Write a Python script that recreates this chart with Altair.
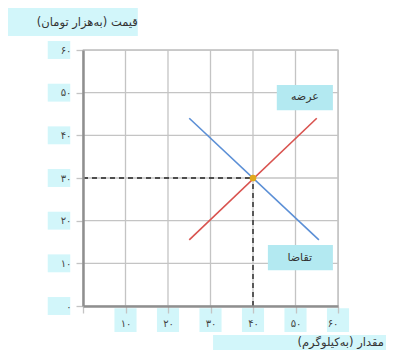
import altair as alt
import pandas as pd

# ---- data ----
ticks = [0, 10, 20, 30, 40, 50, 60]
tick_labels_fa = ["۰", "۱۰", "۲۰", "۳۰", "۴۰", "۵۰", "۶۰"]

supply_q = [25, 55]
supply_p = [15.5, 44]
demand_q = [25, 55.5]
demand_p = [44, 15.5]

eq_q = [40]
eq_p = [30]
axis_origin = [0]
axis_max = [60]

ann_text = ["عرضه", "تقاضا"]
ann_q = [52.2, 51.0]
ann_p = [49.0, 11.2]

y_title = "قیمت (به‌هزار تومان)"
x_title = "مقدار (به‌کیلوگرم)"

FONT = "DejaVu Sans"

# ---- tables ----
lines = pd.DataFrame({
    "q": supply_q + demand_q,
    "p": supply_p + demand_p,
    "curve": ["supply"] * 2 + ["demand"] * 2,
})
eq = pd.DataFrame({"q": eq_q, "p": eq_p, "z": axis_origin})
ann = pd.DataFrame({"q": ann_q, "p": ann_p, "t": ann_text})
grid = pd.DataFrame({"v": ticks[1:], "lo": axis_origin * 6, "hi": axis_max * 6})

# highlight boxes (data units)
boxes_light = pd.DataFrame(
    [{"x1": v - 2.6, "x2": v + 2.6, "y1": -0.5, "y2": -6.1} for v in ticks[1:]]
    + [{"x1": -8.3, "x2": -3.0, "y1": v - 2.1, "y2": v + 2.1} for v in ticks]
    + [{"x1": -20, "x2": 12.9, "y1": 63.3, "y2": 70.0},
       {"x1": 30.6, "x2": 80, "y1": -6.8, "y2": -13}]
)
boxes_ann = pd.DataFrame([
    {"x1": 45.6, "x2": 58.8, "y1": 45.9, "y2": 51.8},
    {"x1": 43.5, "x2": 58.8, "y1": 8.4, "y2": 14.3},
])
titles = pd.DataFrame({
    "q": [12.9, 70.8],
    "p": [66.4, -8.6],
    "t": [y_title, x_title],
})

fa_map = dict(zip(ticks, tick_labels_fa))
y_expr = " : ".join(f"datum.value == {k} ? '{v}'" for k, v in fa_map.items()) + " : ''"
x_expr = " : ".join(f"datum.value == {k} ? '{v}'" for k, v in fa_map.items() if k != 0) + " : ''"

sx = alt.Scale(domain=[0, 60], nice=False, zero=False)
sy = alt.Scale(domain=[0, 60], nice=False, zero=False)

GRID = "#c4c4c4"

base_lines = alt.Chart(lines).mark_line(strokeWidth=1.6, clip=False).encode(
    x=alt.X("q:Q", scale=sx, title=None,
            axis=alt.Axis(values=ticks, labelExpr=x_expr, grid=False, zindex=1)),
    y=alt.Y("p:Q", scale=sy, title=None,
            axis=alt.Axis(values=ticks, labelExpr=y_expr, grid=False, zindex=1)),
    color=alt.Color("curve:N", scale=alt.Scale(domain=["supply", "demand"],
                                               range=["#d9534f", "#5b8fd6"]), legend=None),
    detail="curve:N",
)

grid_v = alt.Chart(grid).mark_rule(color=GRID, strokeWidth=1.3).encode(
    x=alt.X("v:Q", title=None), y=alt.Y("lo:Q", title=None), y2="hi:Q")
grid_h = alt.Chart(grid).mark_rule(color=GRID, strokeWidth=1.3).encode(
    y=alt.Y("v:Q", title=None), x=alt.X("lo:Q", title=None), x2="hi:Q")

light = alt.Chart(boxes_light).mark_rect(color="#d2f6fa", clip=False).encode(
    x=alt.X("x1:Q", title=None), x2="x2:Q", y=alt.Y("y1:Q", title=None), y2="y2:Q")
annbox = alt.Chart(boxes_ann).mark_rect(color="#b3e9f1", clip=False).encode(
    x=alt.X("x1:Q", title=None), x2="x2:Q", y=alt.Y("y1:Q", title=None), y2="y2:Q")

eq_h = alt.Chart(eq).mark_rule(color="#222", strokeDash=[5, 4], strokeWidth=1.4).encode(
    x=alt.X("z:Q", title=None), x2="q:Q", y=alt.Y("p:Q", title=None))
eq_v = alt.Chart(eq).mark_rule(color="#222", strokeDash=[5, 4], strokeWidth=1.4).encode(
    x=alt.X("q:Q", title=None), y=alt.Y("z:Q", title=None), y2="p:Q")
eq_pt = alt.Chart(eq).mark_circle(size=45, color="#e0a81c", opacity=1).encode(
    x=alt.X("q:Q", title=None), y=alt.Y("p:Q", title=None))

ann_txt = alt.Chart(ann).mark_text(font=FONT, fontSize=11, color="#333").encode(
    x=alt.X("q:Q", title=None), y=alt.Y("p:Q", title=None), text="t:N")
title_txt = alt.Chart(titles).mark_text(font=FONT, fontSize=11.5, color="#333",
                                        align="right", clip=False).encode(
    x=alt.X("q:Q", title=None), y=alt.Y("p:Q", title=None), text="t:N")

chart = alt.layer(
    light, grid_v, grid_h, annbox, base_lines, eq_h, eq_v, eq_pt, ann_txt, title_txt
).properties(
    width=255, height=256,
    autosize=alt.AutoSizeParams(type="none"),
    padding={"left": 75, "top": 42, "right": 48, "bottom": 44},
).configure_view(
    stroke=GRID, strokeWidth=1.3
).configure_axis(
    domainColor="#8f8f8f", domainWidth=2.5,
    tickColor=GRID, tickSize=7, tickWidth=1.3,
    labelFont=FONT, labelFontSize=10, labelColor="#444",
).configure_axisY(labelPadding=5).configure_axisX(labelPadding=5)

chart.save("out.html", embed_options={"renderer": "svg", "actions": False})
